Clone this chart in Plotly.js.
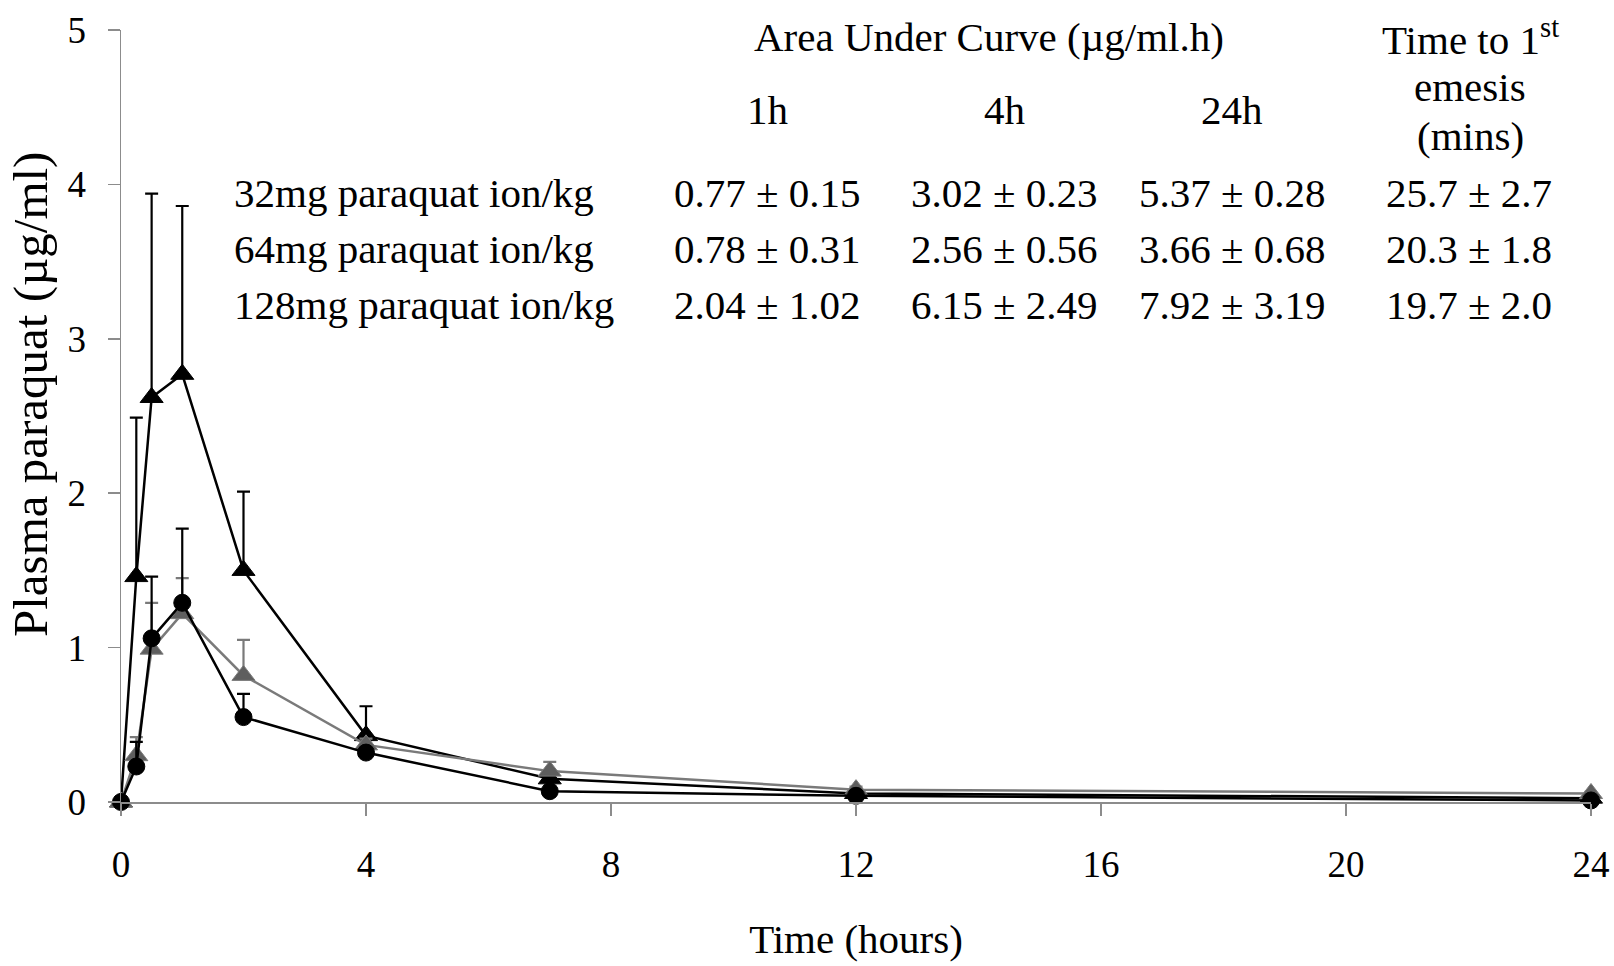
<!DOCTYPE html>
<html>
<head>
<meta charset="utf-8">
<script src="https://cdn.plot.ly/plotly-3.0.1.min.js"></script>
<style>
  html, body { margin: 0; padding: 0; background: #fff; }
  #chart { width: 1614px; height: 966px; }
</style>
</head>
<body>
<div id="chart"></div>
<script>
// Sampling times (hours)
const times = [0, 0.25, 0.5, 1, 2, 4, 7, 12, 24];

// Mean plasma paraquat (µg/ml) and SD for each dose group
const conc128 = [0, 1.46, 2.62, 2.77, 1.50, 0.43, 0.15, 0.055, 0.025];
const sd128   = [0, 1.03, 1.32, 1.09, 0.51, 0.19, 0.03, 0.02, 0.01];
const conc64  = [0, 0.30, 0.99, 1.22, 0.82, 0.37, 0.20, 0.08, 0.055];
const sd64    = [0, 0.12, 0.30, 0.23, 0.23, 0.04, 0.06, 0.02, 0.01];
const conc32  = [0, 0.23, 1.06, 1.29, 0.55, 0.32, 0.07, 0.04, 0.01];
const sd32    = [0, 0.16, 0.40, 0.48, 0.15, 0.03, 0.02, 0.01, 0.01];

// Summary table drawn inside the plot
const doseLabels = ["32mg paraquat ion/kg", "64mg paraquat ion/kg", "128mg paraquat ion/kg"];
const aucHeaders = ["1h", "4h", "24h"];
const auc1h  = ["0.77 ± 0.15", "0.78 ± 0.31", "2.04 ± 1.02"];
const auc4h  = ["3.02 ± 0.23", "2.56 ± 0.56", "6.15 ± 2.49"];
const auc24h = ["5.37 ± 0.28", "3.66 ± 0.68", "7.92 ± 3.19"];
const emesis = ["25.7 ± 2.7", "20.3 ± 1.8", "19.7 ± 2.0"];

const xTicks = [0, 4, 8, 12, 16, 20, 24];
const yTicks = [0, 1, 2, 3, 4, 5];

const FONT = "Liberation Serif, Times New Roman, serif";
const zeros = times.map(() => 0);

function series(y, sd, color, symbol, size, lineColor, barColor) {
  return {
    x: times, y: y, type: "scatter", mode: "lines+markers",
    cliponaxis: false,
    line: { color: lineColor, width: 2.5 },
    marker: { symbol: symbol, size: size, color: color, line: { color: lineColor, width: 1 } },
    error_y: { type: "data", symmetric: false, array: sd, arrayminus: zeros,
               color: barColor, thickness: 2.2, width: 6.5 },
    showlegend: false, hoverinfo: "x+y"
  };
}

const traces = [
  series(conc128, sd128, "#000000", "triangle-up", 20, "#000000", "#000000"),
  series(conc64, sd64, "#5e5e5e", "triangle-up", 20, "#7a7a7a", "#7a7a7a"),
  series(conc32, sd32, "#000000", "circle", 17, "#000000", "#000000")
];

// Plot area spans pixels x 121..1591, y 30..802
const L = 121, R = 1591, T = 30, B = 802;
const px = v => (v - L) / (R - L);
const py = v => (B - v) / (B - T);

const annFont = { family: FONT, size: 41, color: "#000" };
const annotations = [];
function addText(text, x, y, anchor) {
  annotations.push({ text: text, xref: "paper", yref: "paper", x: px(x), y: py(y),
    xanchor: anchor || "center", yanchor: "middle", showarrow: false, font: annFont });
}

addText("Area Under Curve (µg/ml.h)", 989, 37);
addText("Time to 1<sup>st</sup>", 1470, 37);
addText("emesis", 1470, 87);
addText("(mins)", 1470, 136);

const colX = [767, 1004, 1232];
aucHeaders.forEach((h, i) => addText(h, colX[i], 110));

const rowY = [193, 249, 305];
doseLabels.forEach((d, i) => {
  addText(d, 232, rowY[i], "left");
  addText(auc1h[i], colX[0], rowY[i]);
  addText(auc4h[i], colX[1], rowY[i]);
  addText(auc24h[i], colX[2], rowY[i]);
  addText(emesis[i], 1469, rowY[i]);
});

// Y axis title, placed slightly above the plot's vertical centre
annotations.push({ text: "Plasma paraquat (µg/ml)", xref: "paper", yref: "paper",
  x: px(30), y: py(395), xanchor: "center", yanchor: "middle", textangle: -90,
  showarrow: false, font: { family: FONT, size: 49, color: "#000" } });

const axisCommon = {
  showgrid: false, zeroline: false, showline: true, linecolor: "#8c8c8c", linewidth: 1.5,
  ticks: "outside", ticklen: 12, tickcolor: "#8c8c8c", tickwidth: 1.5,
  tickfont: { family: FONT, size: 37, color: "#000" }
};

const layout = {
  width: 1614, height: 966,
  margin: { l: L, r: 1614 - R, t: T, b: 966 - B },
  paper_bgcolor: "#fff", plot_bgcolor: "#fff",
  font: { family: FONT, color: "#000" },
  xaxis: Object.assign({}, axisCommon, {
    range: [0, 24], tickvals: xTicks, ticktext: xTicks.map(String),
    ticklabelstandoff: 17,
    title: { text: "Time (hours)", font: { family: FONT, size: 41, color: "#000" }, standoff: 40 }
  }),
  yaxis: Object.assign({}, axisCommon, {
    range: [0, 5], tickvals: yTicks, ticktext: yTicks.map(String),
    ticklabelstandoff: 14
  }),
  annotations: annotations
};

Plotly.newPlot("chart", traces, layout, { staticPlot: true, displayModeBar: false });
</script>
</body>
</html>
